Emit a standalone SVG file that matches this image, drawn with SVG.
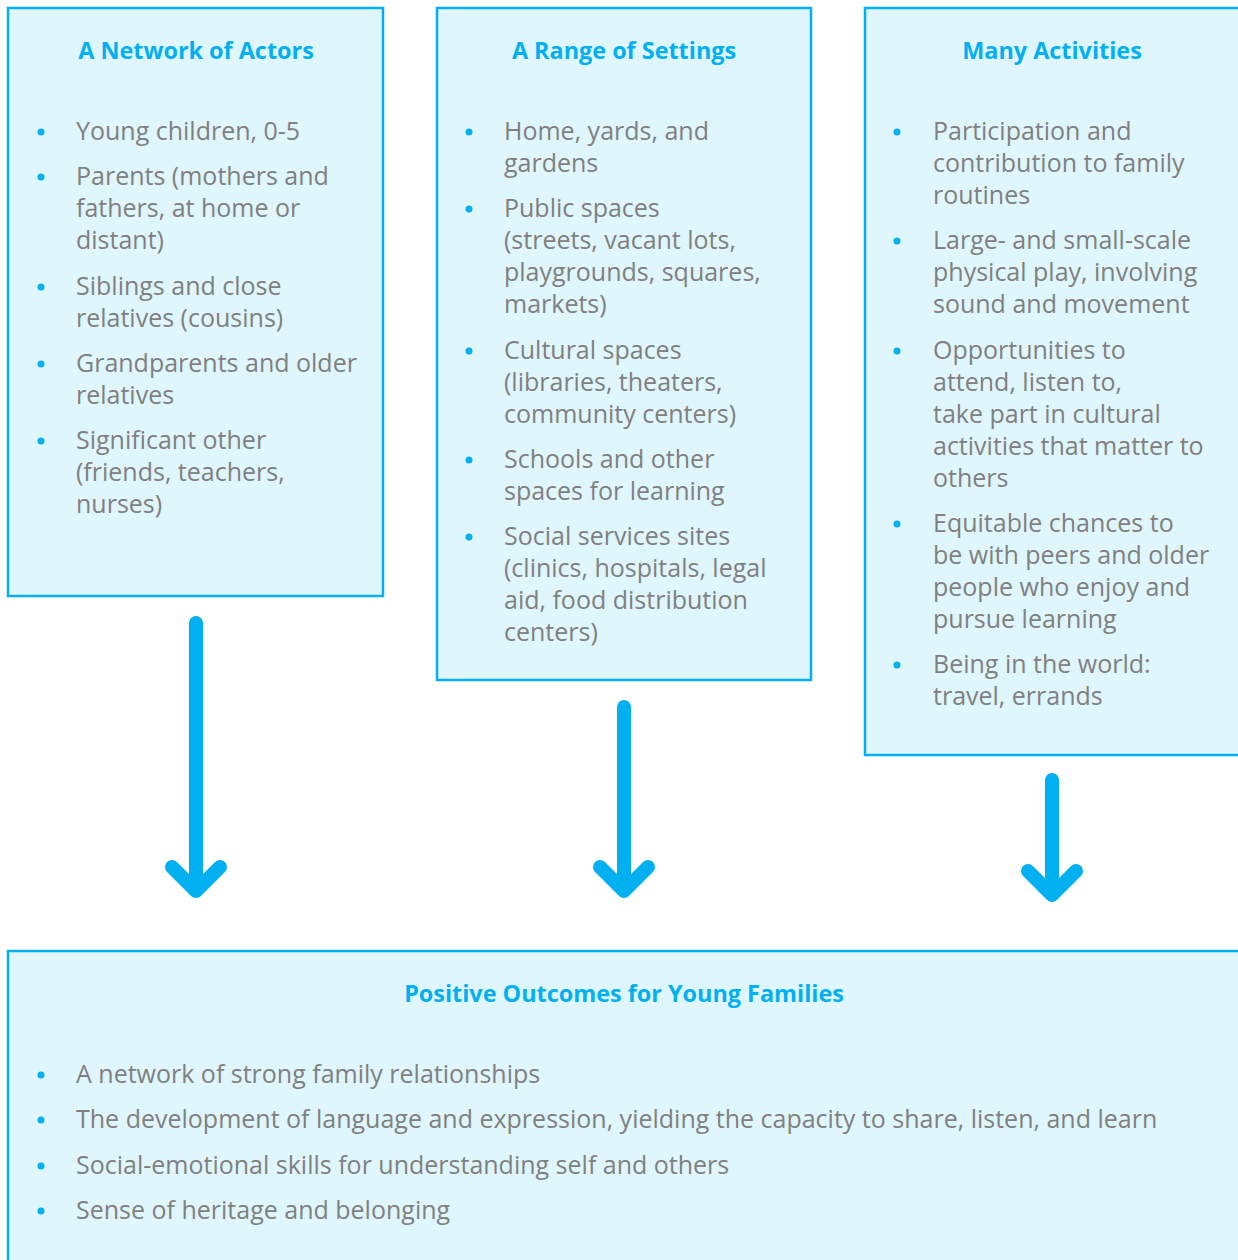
<svg xmlns="http://www.w3.org/2000/svg" width="1238" height="1260" viewBox="0 0 1238 1260">
<style>
.box{fill:#DFF6FC;stroke:#00B0F0;stroke-width:2.5}
.t{font-family:"Open Sans","Noto Sans",sans-serif;font-size:23.4px;font-weight:bold;fill:#00B0F0;text-anchor:middle}
.i{font-family:"Open Sans","Noto Sans",sans-serif;font-size:25px;fill:#808080}
.b{fill:#00B0F0}
.arr{fill:none;stroke:#00B0F0;stroke-width:14;stroke-linecap:round;stroke-linejoin:round}
</style>
<rect width="1238" height="1260" fill="#fff"/>
<g id="actors">
<rect class="box" x="8" y="8" width="375" height="588"/>
<text class="t" x="196" y="59">A Network of Actors</text>
<g class="b"><circle cx="41" cy="132" r="3.5"/><circle cx="41" cy="177" r="3.5"/><circle cx="41" cy="287" r="3.5"/><circle cx="41" cy="364" r="3.5"/><circle cx="41" cy="441" r="3.5"/></g>
<text class="i" x="76" y="140">Young children, 0-5</text>
<text class="i" x="76" y="185">Parents (mothers and</text>
<text class="i" x="76" y="217">fathers, at home or</text>
<text class="i" x="76" y="249">distant)</text>
<text class="i" x="76" y="295">Siblings and close</text>
<text class="i" x="76" y="327">relatives (cousins)</text>
<text class="i" x="76" y="372">Grandparents and older</text>
<text class="i" x="76" y="404">relatives</text>
<text class="i" x="76" y="449">Significant other</text>
<text class="i" x="76" y="481">(friends, teachers,</text>
<text class="i" x="76" y="513">nurses)</text>
</g>
<g id="settings">
<rect class="box" x="437" y="8" width="374" height="672"/>
<text class="t" x="624" y="59">A Range of Settings</text>
<g class="b"><circle cx="469" cy="132" r="3.5"/><circle cx="469" cy="209" r="3.5"/><circle cx="469" cy="351" r="3.5"/><circle cx="469" cy="460" r="3.5"/><circle cx="469" cy="537" r="3.5"/></g>
<text class="i" x="504" y="140">Home, yards, and</text>
<text class="i" x="504" y="172">gardens</text>
<text class="i" x="504" y="217">Public spaces</text>
<text class="i" x="504" y="249">(streets, vacant lots,</text>
<text class="i" x="504" y="281">playgrounds, squares,</text>
<text class="i" x="504" y="313">markets)</text>
<text class="i" x="504" y="359">Cultural spaces</text>
<text class="i" x="504" y="391">(libraries, theaters,</text>
<text class="i" x="504" y="423">community centers)</text>
<text class="i" x="504" y="468">Schools and other</text>
<text class="i" x="504" y="500">spaces for learning</text>
<text class="i" x="504" y="545">Social services sites</text>
<text class="i" x="504" y="577">(clinics, hospitals, legal</text>
<text class="i" x="504" y="609">aid, food distribution</text>
<text class="i" x="504" y="641">centers)</text>
</g>
<g id="activities">
<rect class="box" x="865" y="8" width="380" height="747"/>
<text class="t" x="1052" y="59">Many Activities</text>
<g class="b"><circle cx="897" cy="132" r="3.5"/><circle cx="897" cy="241" r="3.5"/><circle cx="897" cy="351" r="3.5"/><circle cx="897" cy="524" r="3.5"/><circle cx="897" cy="665" r="3.5"/></g>
<text class="i" x="933" y="140">Participation and</text>
<text class="i" x="933" y="172">contribution to family</text>
<text class="i" x="933" y="204">routines</text>
<text class="i" x="933" y="249">Large- and small-scale</text>
<text class="i" x="933" y="281">physical play, involving</text>
<text class="i" x="933" y="313">sound and movement</text>
<text class="i" x="933" y="359">Opportunities to</text>
<text class="i" x="933" y="391">attend, listen to,</text>
<text class="i" x="933" y="423">take part in cultural</text>
<text class="i" x="933" y="455">activities that matter to</text>
<text class="i" x="933" y="487">others</text>
<text class="i" x="933" y="532">Equitable chances to</text>
<text class="i" x="933" y="564">be with peers and older</text>
<text class="i" x="933" y="596">people who enjoy and</text>
<text class="i" x="933" y="628">pursue learning</text>
<text class="i" x="933" y="673">Being in the world:</text>
<text class="i" x="933" y="705">travel, errands</text>
</g>
<g id="outcomes">
<rect class="box" x="8" y="951" width="1240" height="320"/>
<text class="t" x="624" y="1002">Positive Outcomes for Young Families</text>
<g class="b"><circle cx="41" cy="1075" r="3.5"/><circle cx="41" cy="1120" r="3.5"/><circle cx="41" cy="1166" r="3.5"/><circle cx="41" cy="1211" r="3.5"/></g>
<text class="i" x="76" y="1083">A network of strong family relationships</text>
<text class="i" x="76" y="1128">The development of language and expression, yielding the capacity to share, listen, and learn</text>
<text class="i" x="76" y="1174">Social-emotional skills for understanding self and others</text>
<text class="i" x="76" y="1219">Sense of heritage and belonging</text>
</g>
<g id="connectors">
<path class="arr" d="M196 623V889M172 867L196 891L220 867"/>
<path class="arr" d="M624 707V889M600 867L624 891L648 867"/>
<path class="arr" d="M1052 780V893M1028 871L1052 895L1076 871"/>
</g>
</svg>
